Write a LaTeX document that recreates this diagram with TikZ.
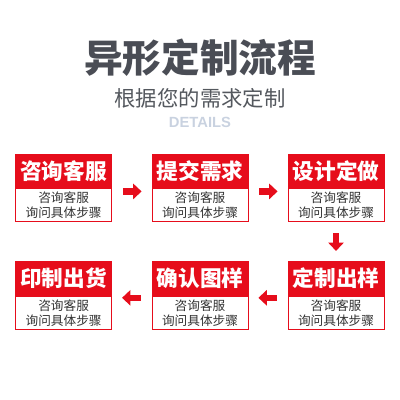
\documentclass[tikz,border=0pt]{standalone}
\usepackage{fontspec}
\newfontfamily\cjk{Noto Sans CJK SC}
\setsansfont{Liberation Sans}
\usetikzlibrary{arrows.meta,positioning}
\definecolor{boxred}{HTML}{E60D1B}
\definecolor{titlegray}{HTML}{4A4D55}
\definecolor{subgray}{HTML}{54585E}
\definecolor{tagblue}{HTML}{C9D2E0}
\definecolor{bodygray}{HTML}{333333}

\begin{document}
\begin{tikzpicture}[
                font=\cjk,
                head/.style={rectangle, fill=boxred, draw=boxred, line width=0.6pt, minimum width=2.4cm, minimum height=0.85cm, inner sep=0pt, text=white, font=\cjk\bfseries\fontsize{15.4}{16}\selectfont},
                body/.style={rectangle, fill=white, draw=boxred, line width=0.6pt, minimum width=2.4cm, minimum height=0.825cm, inner sep=0pt, align=center, text=bodygray, font=\cjk\fontsize{9}{10.6}\selectfont},
                flow/.style={-{Triangle[length=2.1mm,width=3.8mm]}, line width=1.6mm, boxred, shorten <=2.7mm, shorten >=2.5mm},
            ]
            \useasboundingbox (0,0) rectangle (10,10);

            % title
            \node[text=titlegray, font=\cjk\bfseries\fontsize{27.5}{30}\selectfont] (title) at (5,8.55) {异形定制流程};
            \node[text=subgray, font=\cjk\fontsize{15.2}{17}\selectfont] (sub) at (5,7.55) {根据您的需求定制};
            \node[text=tagblue, font=\sffamily\bfseries\fontsize{10.5}{12}\selectfont] (tag) at (5,6.95) {DETAILS};

            % row 1
            \node[head] (h1) at (1.59,5.725) {咨询客服};
            \node[head] (h2) at (5.0,5.725)  {提交需求};
            \node[head] (h3) at (8.4,5.725)  {设计定做};
            % row 2
            \node[head] (h4) at (8.4,3.04)   {定制出样};
            \node[head] (h5) at (5.0,3.04)   {确认图样};
            \node[head] (h6) at (1.59,3.04)  {印制出货};

            \foreach \i in {1,...,6}
            \node[body, below=0pt of h\i] (b\i) {咨询客服\\询问具体步骤};

            % arrows
            \draw[flow] ([yshift=-0.75mm]h1.south east) -- ([yshift=-0.75mm]h2.south west);
            \draw[flow] ([yshift=-0.75mm]h2.south east) -- ([yshift=-0.75mm]h3.south west);
            \draw[flow] (b3.south) -- (h4.north);
            \draw[flow] ([yshift=-0.5mm]h4.south west) -- ([yshift=-0.5mm]h5.south east);
            \draw[flow] ([yshift=-0.5mm]h5.south west) -- ([yshift=-0.5mm]h6.south east);
        \end{tikzpicture}
\end{document}
